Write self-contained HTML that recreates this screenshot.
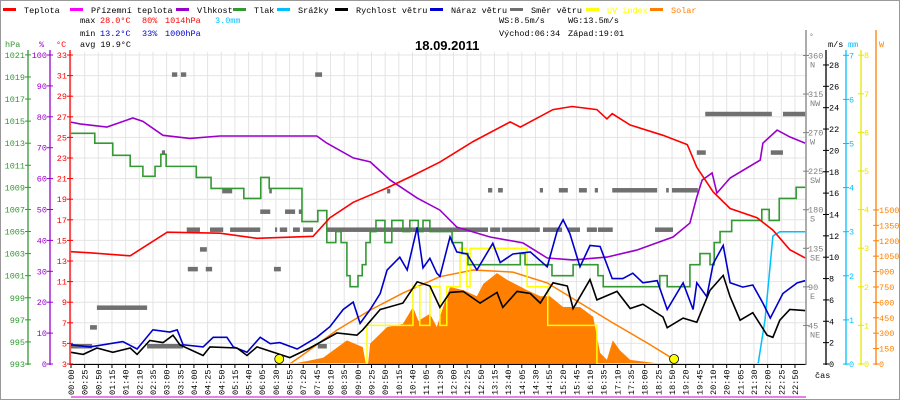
<!DOCTYPE html>
<html><head><meta charset="utf-8"><style>
html,body{margin:0;padding:0;background:#fff;}
svg{display:block;font-family:"Liberation Mono",monospace;}
</style></head><body>
<svg id="chart" width="900" height="400" viewBox="0 0 900 400" xmlns="http://www.w3.org/2000/svg">
<rect x="0.5" y="0.5" width="899" height="399" fill="#fff" stroke="#999"/>
<g id="grid"></g>
<g id="series"></g>
<g id="axes"></g>
<g id="legend" font-size="8.5"></g>
<g font-size="8.5">
<text x="80" y="23">max</text>
<text x="100" y="23" fill="#f00">28.0°C</text>
<text x="142" y="23" fill="#f00">80%</text>
<text x="165" y="23" fill="#f00">1014hPa</text>
<text x="215" y="23" fill="#00bfff">3.0mm</text>
<text x="80" y="36">min</text>
<text x="100" y="36" fill="#00c">13.2°C</text>
<text x="142" y="36" fill="#00c">33%</text>
<text x="165" y="36" fill="#00c">1000hPa</text>
<text x="80" y="47">avg 19.9°C</text>
<text x="499" y="23">WS:8.5m/s</text>
<text x="568" y="23">WG:13.5m/s</text>
<text x="499" y="36">Východ:06:34</text>
<text x="568" y="36">Západ:19:01</text>
</g>
<text x="415" y="50" font-size="13" font-weight="bold" font-family="Liberation Sans, sans-serif">18.09.2011</text>
</svg>
<script>
// ---- data (time in minutes from midnight) ----
const tempTimes=[0,36,112,182,282,352,458,490,534,598,647,698,761,831,850,912,948,995,1014,1024,1058,1120,1166,1184,1215,1247,1298,1328,1360,1389];
const tempValues=[13.9,13.8,13.5,15.8,15.7,15.2,15.4,17.2,18.7,20.1,21.3,22.6,24.6,26.5,26.0,27.7,28.0,27.7,26.8,27.3,26.2,25.2,24.3,22.1,19.7,18.1,17.2,16.0,14.1,13.3];
const humTimes=[0,17,68,117,136,174,225,282,465,484,534,566,604,655,698,730,793,855,901,950,1014,1071,1139,1171,1184,1194,1213,1222,1247,1304,1309,1336,1360,1389];
const humValues=[78.3,77.7,76.7,79.6,78.5,74,73,73.8,73.8,71.5,66.7,65.4,59.5,53.7,49.8,44.3,41.1,39.2,34.3,33.7,34.6,36.9,41.1,45.6,54,59.5,61.8,55.3,60.2,66,71.5,75.7,73.5,71.5];
const pressTimes=[0,45,79,112,136,159,170,180,237,265,327,359,375,437,467,484,501,511,522,528,543,551,558,566,577,594,607,628,641,657,666,679,721,740,751,850,859,910,950,997,1007,1114,1128,1171,1190,1209,1217,1228,1250,1307,1321,1340,1372];
const pressValues=[1013.9,1013,1011.9,1010.9,1010,1010.9,1012,1010.9,1009.9,1008.9,1008,1009.9,1008.9,1005.9,1006.9,1004,1005,1004,1001,1000,1001,1002,1004,1005,1006,1004,1006,1005,1006,1005,1006,1005,1004,1003,1002,1003,1002,1001,1002,1001,1000,1001,1000,1002,1003,1002,1004,1005,1006,1007,1006,1008,1009];
const windTimes=[0,23,49,79,112,125,149,174,193,206,250,263,314,333,352,377,414,452,503,541,552,585,628,655,679,698,717,742,774,806,817,844,869,888,912,939,950,982,995,1033,1058,1082,1120,1128,1158,1184,1209,1234,1247,1266,1290,1317,1328,1341,1360,1389];
const windValues=[1.1,0.9,1.5,1.1,1.5,0.9,2.2,2.0,2.7,1.8,0.8,1.6,1.5,0.8,1.6,1.2,0.6,1.5,2.9,2.7,3.2,5.1,5.7,7.7,7.3,5.3,6.7,6.8,5.7,6.7,5.3,6.8,6.6,5.7,7.6,7.3,5.2,7.9,6.0,6.8,5.2,5.6,4.4,3.4,4.3,3.9,6.9,8.3,6.3,4.1,4.8,2.7,2.5,4.1,5.1,5.0];
const gustTimes=[0,36,98,125,155,187,201,212,250,269,295,307,333,358,377,395,428,465,490,515,534,547,566,585,598,622,636,655,666,679,692,698,717,730,749,768,798,812,836,869,901,920,931,944,963,982,1001,1024,1044,1063,1082,1109,1128,1158,1177,1184,1203,1215,1234,1247,1271,1290,1309,1323,1347,1374,1389];
const gustValues=[1.8,1.6,2.1,1.4,3.2,3.0,3.2,1.8,1.6,2.5,2.5,1.6,1.1,2.5,1.9,2.0,1.4,2.5,3.5,5.1,5.8,3.8,5.1,6.6,8.8,10,8.8,12.8,9.0,9.9,8.5,8.2,11.9,10.5,10.3,8.8,11.3,9.5,10.3,10.5,9.1,12.5,13.5,12.2,9.1,11.1,11.0,8.0,8.0,8.5,7.6,7.8,5.1,7.6,5.1,7.6,6.3,9.4,11.1,7.6,7.2,7.4,5.7,4.3,6.6,7.6,7.8];
const rainTimes=[0,1300,1313,1328,1341,1389];
const rainValues=[0,0,1.0,2.9,3.0,3.0];
const uvTimes=[0,560,647,660,679,698,711,736,749,755,863,902,995,1389];
const uvValues=[0,1,2,1,2,1,2,3,2,3,2,1,0,0];
const solarTimes=[414,439,477,522,552,558,562,566,598,628,647,657,679,692,704,717,742,768,780,806,825,863,888,906,931,963,988,1001,1014,1025,1039,1058,1120];
const solarValues=[0,20,60,230,165,0,0,200,360,390,555,420,490,360,555,750,720,660,780,885,820,720,660,660,555,555,460,110,40,230,130,40,0];
const solarMaxTimes=[414,439,503,566,628,698,761,836,901,963,1025,1090,1133,1145];
const solarMaxValues=[0,90,330,525,690,850,915,895,790,595,400,205,70,0];
const dirStart=[0,36,49,144,172,191,208,219,263,301,244,221,255,384,286,375,358,405,431,386,395,420,439,462,467,484,598,793,815,893,940,976,997,1105,789,808,887,923,961,991,1024,1126,1137,1184,1324,1200,1347];
const dirEnd=[40,49,144,212,178,201,218,244,288,358,257,240,267,397,305,380,377,424,437,390,409,433,458,475,484,789,604,812,887,929,963,995,1025,1139,797,817,893,940,976,997,1109,1131,1186,1201,1347,1326,1389];
const dirValues=[21,43,66,21,247,338,338,157,157,157,134,111,111,111,202,202,178,178,178,157,157,157,157,338,21,157,202,157,157,157,157,157,157,157,203,203,203,203,203,203,203,203,203,247,247,292,292];
const sunTimes=[394,1141];
const xLabels=["00:00","00:25","00:50","01:15","01:40","02:10","02:35","03:00","03:35","04:00","04:25","04:50","05:15","05:40","06:05","06:30","06:55","07:20","07:45","08:10","08:35","09:00","09:25","09:50","10:15","10:40","11:05","11:30","12:00","12:25","12:50","13:15","13:40","14:05","14:30","14:55","15:20","15:45","16:10","16:35","17:10","17:35","18:00","18:25","18:50","19:20","19:45","20:10","20:40","21:05","21:30","22:00","22:25","22:50"];
const tempTicks=[3,5,7,9,11,13,15,17,19,21,23,25,27,29,31,33];
const humTicks=[0,10,20,30,40,50,60,70,80,90,100];
const pressTicks=[993,995,997,999,1001,1003,1005,1007,1009,1011,1013,1015,1017,1019,1021];
const windTicks=[0,2,4,6,8,10,12,14,16,18,20,22,24,26,28];
const rainTicks=[0,1,2,3,4,5,6,7];
const uvTicks=[0,1,2,3,4,5,6,7,8];
const solarTicks=[0,150,300,450,600,750,900,1050,1200,1350,1500];
const dirTicks=[45,90,135,180,225,270,315,360];
const dirNames=["NE","E","SE","S","SW","W","NW","N"];

// ---- scales ----
const FS=8.5;
const X=t=>71+t/1.892;
const yT=v=>364-(v-3)*10.3, yH=v=>364-v*3.09, yP=v=>364-(v-993)*11.04;
const yW=v=>364-v*10.68, yR=v=>364-v*44.1, yU=v=>364-v*38.6, yS=v=>364-v*0.1027, yD=v=>364-v*0.857;
const NS="http://www.w3.org/2000/svg";
function mk(parent,tag,attrs,name){
  const el=document.createElementNS(NS,tag);
  for(const k in attrs) el.setAttribute(k,attrs[k]);
  
  
  parent.appendChild(el);return el;
}
const G=document.getElementById('grid'),S=document.getElementById('series'),A=document.getElementById('axes'),L=document.getElementById('legend');
const LX=i=>71+i*13.66;
xLabels.forEach((lab,i)=>{mk(G,'line',{x1:LX(i),x2:LX(i),y1:52,y2:364,stroke:'#e4e4e4'},'grid-v-'+lab);});
tempTicks.forEach(v=>{mk(G,'line',{x1:71,x2:806,y1:yT(v),y2:yT(v),stroke:'#e4e4e4'},'grid-h-'+v);});
function pts(ts,vs,f){return ts.map((t,i)=>X(t).toFixed(1)+','+f(vs[i]).toFixed(1)).join(' ');}
function stepPts(ts,vs,f,end){let a=[];ts.forEach((t,i)=>{if(i>0)a.push(X(t)+','+f(vs[i-1]));a.push(X(t)+','+f(vs[i]));});a.push(X(end)+','+f(vs[vs.length-1]));return a.join(' ');}
mk(S,'polygon',{points:X(solarTimes[0])+',364 '+pts(solarTimes,solarValues,yS)+' '+X(solarTimes[solarTimes.length-1])+',364',fill:'#ff8000'},'solar-area');
mk(S,'polyline',{points:pts(solarMaxTimes,solarMaxValues,yS),fill:'none',stroke:'#ff8000','stroke-width':1.5},'solar-theoretical-line');
mk(S,'polyline',{points:pts(rainTimes,rainValues,yR),fill:'none',stroke:'#00bfff','stroke-width':1.5},'rain-line');
mk(S,'polyline',{points:stepPts(uvTimes,uvValues,yU,1389),fill:'none',stroke:'#ffff00','stroke-width':1.5},'uv-line');
dirValues.forEach((d,i)=>{mk(S,'rect',{x:X(dirStart[i]),y:yD(d)-2,width:Math.max(2,X(dirEnd[i])-X(dirStart[i])),height:4.5,fill:'#707070'},'wind-direction-bar');});
mk(S,'polyline',{points:stepPts(pressTimes,pressValues,yP,1389),fill:'none',stroke:'#339933','stroke-width':1.6},'pressure-line');
mk(S,'polyline',{points:pts(humTimes,humValues,yH),fill:'none',stroke:'#9900cc','stroke-width':1.6},'humidity-line');
mk(S,'polyline',{points:pts(tempTimes,tempValues,yT),fill:'none',stroke:'#ff0000','stroke-width':1.6},'temperature-line');
mk(S,'polyline',{points:pts(gustTimes,gustValues,yW),fill:'none',stroke:'#0000cc','stroke-width':1.6},'wind-gust-line');
mk(S,'polyline',{points:pts(windTimes,windValues,yW),fill:'none',stroke:'#000','stroke-width':1.6},'wind-speed-line');
sunTimes.forEach((t,i)=>{mk(S,'circle',{cx:X(t),cy:359,r:4.5,fill:'#ffff00',stroke:'#000','stroke-width':0.8},i?'sunset-marker':'sunrise-marker');});
mk(A,'line',{x1:71,x2:806,y1:364.5,y2:364.5,stroke:'#000'},'x-axis-line');
mk(A,'line',{x1:71,x2:806,y1:397,y2:397,stroke:'#cc00cc'},'x-axis-bottom-line');
xLabels.forEach((lab,i)=>{
  mk(A,'line',{x1:LX(i),x2:LX(i),y1:364,y2:368,stroke:'#000'},'x-tick');
  const t=mk(A,'text',{x:0,y:0,'font-size':FS,transform:'translate('+(LX(i)+3)+',395) rotate(-90)'},'x-tick-label');t.textContent=lab;
});
mk(A,'text',{x:815,y:378,'font-size':FS},'x-axis-title').textContent='čas';
function vAxis(x,ticks,f,col,name,labelX,anchor){
  mk(A,'line',{x1:x,x2:x,y1:50,y2:365,stroke:col,'stroke-width':1.3},name+'-axis-line');
  ticks.forEach(v=>{const y=f(v);
    mk(A,'line',{x1:x-3,x2:x+3,y1:y,y2:y,stroke:col},name+'-tick');
    const t=mk(A,'text',{x:labelX,y:y+3,fill:col,'font-size':FS,'text-anchor':anchor},name+'-tick-label');t.textContent=v;});
}
vAxis(28,pressTicks,yP,'#339933','pressure',25,'end');
vAxis(50,humTicks,yH,'#9900cc','humidity',47,'end');
vAxis(70,tempTicks,yT,'#ff0000','temperature',67,'end');
mk(A,'text',{x:5,y:47,fill:'#339933','font-size':FS},'pressure-axis-title').textContent='hPa';
mk(A,'text',{x:39,y:47,fill:'#9900cc','font-size':FS},'humidity-axis-title').textContent='%';
mk(A,'text',{x:56,y:47,fill:'#ff0000','font-size':FS},'temperature-axis-title').textContent='°C';
mk(A,'line',{x1:806,x2:806,y1:30,y2:365,stroke:'#808080','stroke-width':1.3},'direction-axis-line');
dirTicks.forEach((d,i)=>{const y=yD(d);
  mk(A,'line',{x1:803,x2:809,y1:y,y2:y,stroke:'#808080'},'direction-tick');
  mk(A,'text',{x:808,y:y+3,fill:'#808080','font-size':FS},'direction-tick-label').textContent=d;
  mk(A,'text',{x:810,y:y+12,fill:'#808080','font-size':FS},'direction-name-label').textContent=dirNames[i];});
mk(A,'text',{x:809,y:39,fill:'#808080','font-size':8},'direction-axis-title').textContent='°';
vAxis(826,windTicks,yW,'#000','wind-speed',829,'start');
vAxis(846,rainTicks,yR,'#00bfff','rain',849,'start');
vAxis(861,uvTicks,yU,'#e6e600','uv',864,'start');
mk(A,'line',{x1:876,x2:876,y1:30,y2:365,stroke:'#ff8000','stroke-width':1.3},'solar-axis-line');
solarTicks.forEach(v=>{const y=yS(v);
  mk(A,'line',{x1:873,x2:879,y1:y,y2:y,stroke:'#ff8000'},'solar-tick');
  mk(A,'text',{x:879,y:y+3,fill:'#ff8000','font-size':FS},'solar-tick-label').textContent=v;});
mk(A,'text',{x:828,y:47,'font-size':FS},'wind-axis-title').textContent='m/s';
mk(A,'text',{x:848,y:47,fill:'#00bfff','font-size':FS},'rain-axis-title').textContent='mm';
mk(A,'text',{x:879,y:47,fill:'#ff8000','font-size':FS},'solar-axis-title').textContent='W';
const legNames=["Teplota","Přízemní teplota","Vlhkost","Tlak","Srážky","Rychlost větru","Náraz větru","Směr větru","UV index","Solar"];
const legColors=["#ff0000","#ff00ff","#9900cc","#339933","#00bfff","#000000","#0000cc","#707070","#ffff00","#ff8000"];
const legX=[3,70,176,233,277,335,430,510,586,650];
legNames.forEach((n,i)=>{
  mk(L,'rect',{x:legX[i],y:8,width:13,height:3,fill:legColors[i]},'legend-swatch');
  const t=mk(L,'text',{x:legX[i]+21,y:13,fill:i>=8?legColors[i]:'#000'},'legend-entry');t.textContent=n;
});
</script>
</body></html>
